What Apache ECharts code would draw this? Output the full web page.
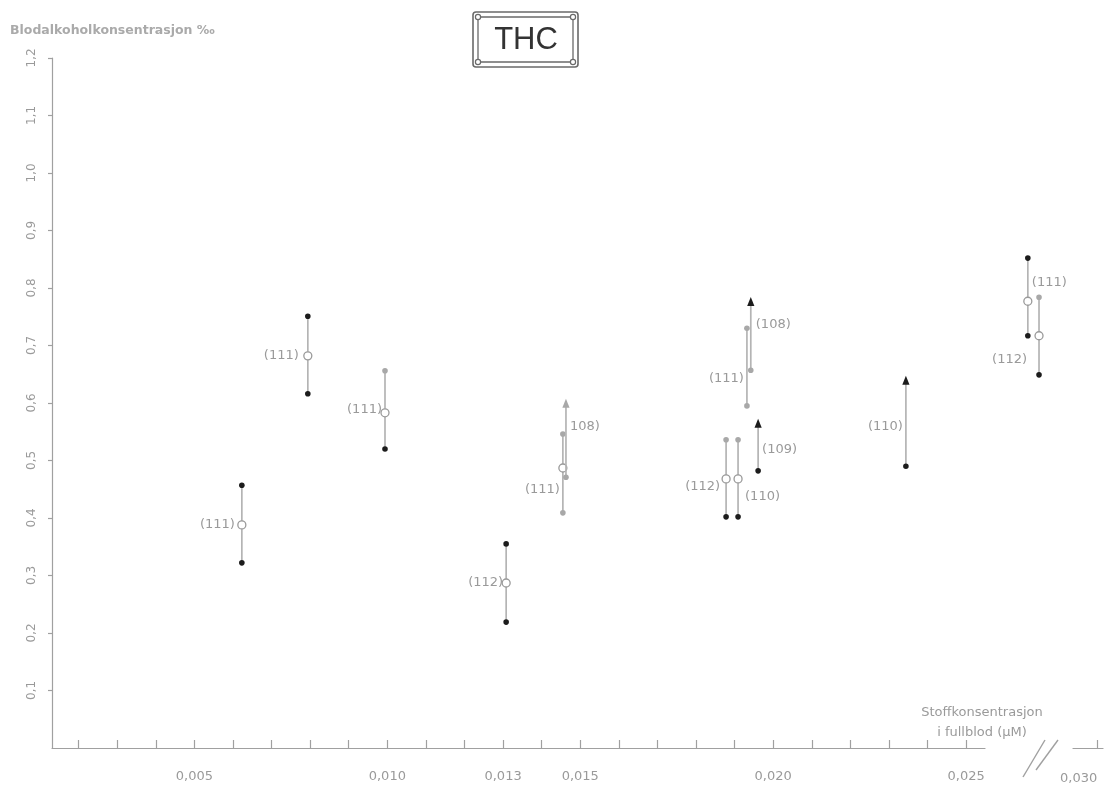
<!DOCTYPE html>
<html>
<head>
<meta charset="utf-8">
<script src="https://cdn.jsdelivr.net/npm/echarts@6/dist/echarts.min.js"></script>
<style>
html,body{margin:0;padding:0;background:#fff;}
#chart{width:1106px;height:794px;}
</style>
</head>
<body>
<div id="chart"></div>
<script>
// ---------------- DATA ----------------
// x: substance concentration in whole blood (µM)
const groupX    = [0.00623, 0.00794, 0.00994, 0.01308, 0.01455, 0.01463, 0.01878, 0.01909, 0.01932, 0.01942, 0.01961, 0.02344, 0.02660, 0.02689];
// blood alcohol concentration (‰): lower end, mean, upper end
const groupLow  = [0.322, 0.616, 0.520, 0.219, 0.409, 0.471, 0.402, 0.402, 0.595, 0.657, 0.482, 0.490, 0.717, 0.649];
const groupMean = [0.388, 0.682, 0.583, 0.287, 0.487, null,  0.468, 0.468, null,  null,  null,  null,  0.777, 0.717];
const groupHigh = [0.457, 0.751, 0.656, 0.355, 0.546, 0.597, 0.536, 0.536, 0.730, 0.774, 0.562, 0.637, 0.852, 0.784];
// upper end is only a lower bound (drawn as an arrow head)
const groupOpenEnded = [false, false, false, false, false, true, false, false, false, true, true, true, false, false];
const groupLabel = ['(111)', '(111)', '(111)', '(112)', '(111)', '108)', '(112)', '(110)', '(111)', '(108)', '(109)', '(110)', '(111)', '(112)'];

const xTickValues  = [0.002,0.003,0.004,0.005,0.006,0.007,0.008,0.009,0.010,0.011,0.012,0.013,0.014,0.015,0.016,0.017,0.018,0.019,0.020,0.021,0.022,0.023,0.024,0.025];
const xLabelValues = [0.005, 0.010, 0.013, 0.015, 0.020, 0.025];
const xLabelValuesAfterBreak = [0.030];
const yLabelValues = [0.1,0.2,0.3,0.4,0.5,0.6,0.7,0.8,0.9,1.0,1.1,1.2];

const titleText = 'THC';
const yAxisTitle = 'Blodalkoholkonsentrasjon ‰';
const xAxisTitle = ['Stoffkonsentrasjon', 'i fullblod (µM)'];

// ---------------- STYLE ----------------
const lowDark   = [1,1,1,1,0,0,1,1,0,0,1,1,1,1];
const highDark  = [1,1,0,1,0,0,0,0,0,1,1,1,1,0];
const labelSide = ['L','L','L','L','L','R','L','R','L','R','R','L','R','L'];
const labelDy   = [0,0,-3,0,22,22,8,18,50,22,25,45,-19,24];
const labelGap  = [7,9,3,3,3,4,6,7,3,5,4,3,4,12];

const DARK = '#1c1c1c';
const GREY = '#a8a8a8';
const LINE = '#b4b4b4';
const TEXT = '#9a9a9a';
const AXIS = '#a0a0a0';
const FONT = 'DejaVu Sans';

const fmtX = v => v.toFixed(3).replace('.', ',');
const fmtY = v => v.toFixed(1).replace('.', ',');

function renderItem(params, api) {
  const i = api.value(0);
  const x = groupX[i];
  const pl = api.coord([x, groupLow[i]]);
  const ph = api.coord([x, groupHigh[i]]);
  const open = groupOpenEnded[i];
  const children = [];
  children.push({
    type: 'line',
    shape: { x1: pl[0], y1: pl[1], x2: ph[0], y2: ph[1] + (open ? 2 : 0) },
    style: { stroke: LINE, lineWidth: 1.7 }
  });
  children.push({
    type: 'circle',
    shape: { cx: pl[0], cy: pl[1], r: 2.8 },
    style: { fill: lowDark[i] ? DARK : GREY }
  });
  if (open) {
    children.push({
      type: 'polygon',
      shape: { points: [[ph[0], ph[1] - 6], [ph[0] - 3.6, ph[1] + 3], [ph[0] + 3.6, ph[1] + 3]] },
      style: { fill: highDark[i] ? DARK : GREY }
    });
  } else {
    children.push({
      type: 'circle',
      shape: { cx: ph[0], cy: ph[1], r: 2.8 },
      style: { fill: highDark[i] ? DARK : GREY }
    });
  }
  let anchor = ph;
  if (groupMean[i] != null) {
    const pm = api.coord([x, groupMean[i]]);
    anchor = pm;
    children.push({
      type: 'circle',
      shape: { cx: pm[0], cy: pm[1], r: 4 },
      style: { fill: '#fff', stroke: '#9a9a9a', lineWidth: 1.3 }
    });
  }
  const left = labelSide[i] === 'L';
  children.push({
    type: 'text',
    style: {
      text: groupLabel[i],
      x: anchor[0] + (left ? -labelGap[i] : labelGap[i]),
      y: anchor[1] + labelDy[i],
      align: left ? 'right' : 'left',
      verticalAlign: 'middle',
      fill: TEXT,
      font: '13px "' + FONT + '"'
    }
  });
  return { type: 'group', children };
}

const chart = echarts.init(document.getElementById('chart'), null, { renderer: 'canvas' });

const option = {
  animation: false,
  backgroundColor: '#fff',
  textStyle: { fontFamily: FONT },
  grid: [
    { left: 52, top: 58, width: 933, height: 690 },
    { left: 1073, top: 58, width: 30, height: 690 }
  ],
  xAxis: [
    {
      type: 'value', gridIndex: 0, min: 0.00131, max: 0.02549,
      splitLine: { show: false },
      axisLine: { show: true, lineStyle: { color: AXIS, width: 1.2 } },
      axisTick: { show: true, customValues: xTickValues, inside: true, length: 8, lineStyle: { color: AXIS, width: 1.2 } },
      axisLabel: { customValues: xLabelValues, formatter: fmtX, margin: 22, color: TEXT, fontSize: 13, fontFamily: FONT }
    },
    {
      type: 'value', gridIndex: 1, min: 0.0295, max: 0.03012,
      splitLine: { show: false },
      axisLine: { show: true, lineStyle: { color: AXIS, width: 1.2 } },
      axisTick: { show: true, customValues: xLabelValuesAfterBreak, inside: true, length: 8, lineStyle: { color: AXIS, width: 1.2 } },
      axisLabel: { customValues: xLabelValuesAfterBreak, formatter: fmtX, margin: 24, align: 'right', color: TEXT, fontSize: 13, fontFamily: FONT }
    }
  ],
  yAxis: [
    {
      type: 'value', gridIndex: 0, min: 0, max: 1.2,
      splitLine: { show: false },
      axisLine: { show: true, lineStyle: { color: AXIS, width: 1.2 } },
      axisTick: { show: true, customValues: yLabelValues, length: 4, lineStyle: { color: AXIS, width: 1.2 } },
      axisLabel: { customValues: yLabelValues, formatter: fmtY, rotate: 90, margin: 14, color: TEXT, fontSize: 12, fontFamily: FONT }
    },
    { type: 'value', gridIndex: 1, min: 0, max: 1.2, show: false }
  ],
  series: [
    {
      type: 'custom',
      xAxisIndex: 0, yAxisIndex: 0,
      clip: false,
      renderItem: renderItem,
      dimensions: ['idx', 'x', 'low', 'high'],
      encode: { x: 1, y: [2, 3] },
      data: groupX.map((x, i) => [i, x, groupLow[i], groupHigh[i]]),
      z: 10
    }
  ],
  graphic: [
    { type: 'text', x: 10, y: 31, style: { text: yAxisTitle, verticalAlign: 'middle', fill: '#aaaaaa', font: 'bold 12.5px "' + FONT + '"' } },
    { type: 'rect', shape: { x: 473, y: 12, width: 105, height: 55, r: 3 }, style: { fill: 'none', stroke: '#6a6a6a', lineWidth: 1.6 } },
    { type: 'rect', shape: { x: 478, y: 17, width: 95, height: 45 }, style: { fill: 'none', stroke: '#6a6a6a', lineWidth: 1.3 } },
    { type: 'circle', shape: { cx: 478, cy: 17, r: 2.6 }, style: { fill: '#fff', stroke: '#6a6a6a', lineWidth: 1.2 } },
    { type: 'circle', shape: { cx: 573, cy: 17, r: 2.6 }, style: { fill: '#fff', stroke: '#6a6a6a', lineWidth: 1.2 } },
    { type: 'circle', shape: { cx: 478, cy: 62, r: 2.6 }, style: { fill: '#fff', stroke: '#6a6a6a', lineWidth: 1.2 } },
    { type: 'circle', shape: { cx: 573, cy: 62, r: 2.6 }, style: { fill: '#fff', stroke: '#6a6a6a', lineWidth: 1.2 } },
    { type: 'text', x: 526, y: 40, style: { text: titleText, align: 'center', verticalAlign: 'middle', fill: '#333', font: '31px "Liberation Sans"' } },
    { type: 'text', x: 982, y: 713, style: { text: xAxisTitle[0], align: 'center', verticalAlign: 'middle', fill: TEXT, font: '13px "' + FONT + '"' } },
    { type: 'text', x: 982, y: 733, style: { text: xAxisTitle[1], align: 'center', verticalAlign: 'middle', fill: TEXT, font: '13px "' + FONT + '"' } },
    { type: 'line', shape: { x1: 1023, y1: 777, x2: 1045, y2: 740 }, style: { stroke: AXIS, lineWidth: 1.4 } },
    { type: 'line', shape: { x1: 1036, y1: 770, x2: 1058, y2: 740 }, style: { stroke: AXIS, lineWidth: 1.4 } }
  ]
};
chart.setOption(option);
</script>
</body>
</html>
